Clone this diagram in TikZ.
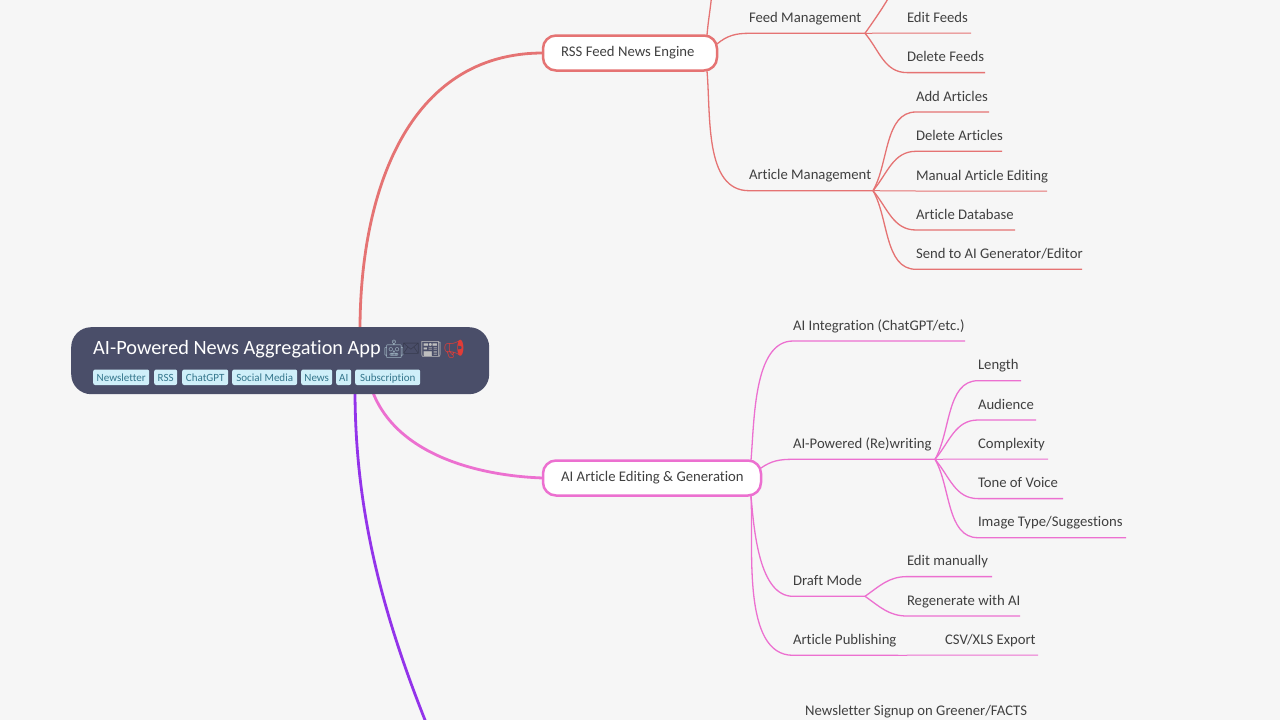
\documentclass[tikz,border=0pt]{standalone}
\usepackage{fontspec}
\setmainfont[RawFeature={-liga}]{Carlito}
\newfontfamily\emojifont{Noto Emoji}
\definecolor{bgcol}{RGB}{246,246,246}
\definecolor{rootcol}{RGB}{74,78,105}
\definecolor{tagcol}{RGB}{207,239,249}
\definecolor{tagtext}{RGB}{52,118,140}
\definecolor{txtcol}{RGB}{64,64,64}
\definecolor{redcol}{RGB}{229,115,115}
\definecolor{pinkcol}{RGB}{236,112,208}
\definecolor{violetcol}{RGB}{147,51,234}
\definecolor{robotcol}{RGB}{150,170,185}
\definecolor{hornzcol}{RGB}{225,60,55}
\tikzset{
  leaf/.style={anchor=south west, inner sep=0pt, outer sep=0pt, text height=10pt, text depth=10.8pt, text width=#1, text=txtcol, font=\fontsize{14.7}{17}\selectfont, execute at begin node={\spaceskip=0pt\hbox\bgroup}, execute at end node=\egroup},
  tag/.style={anchor=base west, fill=tagcol, rounded corners=2pt, inner sep=0pt, text height=12pt, text depth=3.5pt, minimum width=#1, text=tagtext, font=\fontsize{11}{12}\selectfont},
  topic/.style={anchor=west, draw=#1, fill=white, line width=2.5pt, outer sep=0pt, rounded corners=13pt, inner sep=0pt, minimum height=35pt},
  topictext/.style={anchor=base west, inner sep=0pt, text=txtcol, font=\fontsize{14.7}{17}\selectfont},
  emoji/.style={inner sep=0pt, text=#1, font=\emojifont\fontsize{18}{20}\selectfont},
  redline/.style={draw=redcol, line width=1.3pt},
  pinkline/.style={draw=pinkcol, line width=1.3pt},
  flatline/.style={line width=1pt},
  mainline/.style={line width=2.8pt}
}
\begin{document}
\begin{tikzpicture}[x=1pt,y=-1pt]
  \clip (0,0) rectangle (1280,720);
  \fill[bgcol] (0,0) rectangle (1280,720);
  %root
  \coordinate (redstart) at (360,330);
  \coordinate (pinkstart) at (372,390);
  \coordinate (violetstart) at (355,390);
  \coordinate (violetend) at (429,730);
  \node[topic=redcol, minimum width=174pt] (rss) at (543,53) {};
  \node[topic=pinkcol, minimum width=218pt] (aiedit) at (543,478) {};
  \draw[redcol, mainline] (redstart) to [out=90,in=180,looseness=1.05] (rss.west);
  \draw[pinkcol, mainline] (pinkstart) to [out=-70,in=178,looseness=0.9] (aiedit.west);
  \draw[violetcol, mainline] (violetstart) to [out=-90,in=112,looseness=0.9] (violetend);
  \node[anchor=north west, fill=rootcol, rounded corners=20pt, inner sep=0pt, minimum width=418pt, minimum height=67pt] (root) at (71,327) {};
  \node[anchor=base west, inner sep=0pt, text=white, font=\fontsize{20.3}{24}\selectfont] (roottitle) at (93,354.5) {AI-Powered News Aggregation App};
  \node[emoji=robotcol] (robot) at (394,349) {🤖};
  \node[emoji=rootcol!70!black, font=\emojifont\fontsize{14}{16}\selectfont] (envelope) at (411,349) {✉};
  \node[emoji=lightgray] (newspaper) at (431,349) {📰};
  \node[emoji=hornzcol] (megaphone) at (454,349) {📢};
  \node[tag=56pt] (tagnews) at (93,381.5) {Newsletter};
  \node[tag=23pt] (tagrss) at (154,381.5) {RSS};
  \node[tag=46pt] (tagchat) at (182,381.5) {ChatGPT};
  \node[tag=65pt] (tagsocial) at (232,381.5) {Social Media};
  \node[tag=31pt] (tagnew) at (301,381.5) {News};
  \node[tag=15pt] (tagai) at (336,381.5) {AI};
  \node[tag=65pt] (tagsub) at (355,381.5) {Subscription};
  %rss
  \node[topictext] (rsstext) at (561,56.5) {RSS Feed News Engine};
  \node[leaf=116pt] (feedmgmt) at (749,33.3) {Feed Management};
  \node[leaf=124pt] (artmgmt) at (749,190.7) {Article Management};
  \coordinate (rsstop) at (707,35);
  \coordinate (rssbot) at (707,71);
  \coordinate (rssright) at (717,44);
  \coordinate (feedup) at (712,-8);
  \coordinate (addup) at (892,-8);
  \draw[redline] (rsstop) to [out=85,in=-95] (feedup);
  \draw[redline] (rssright) to [out=40,in=180] (feedmgmt.south west) -- (feedmgmt.south east);
  \draw[redline] (rssbot) to [out=-85,in=180,looseness=0.9] (artmgmt.south west) -- (artmgmt.south east);
  \node[leaf=64pt] (editfeeds) at (907,33) {Edit Feeds};
  \node[leaf=78pt] (delfeeds) at (907,72.6) {Delete Feeds};
  \draw[redline] (feedmgmt.south east) to [out=55,in=-120] (addup);
  \draw[redline, flatline] (feedmgmt.south east) -- (editfeeds.south west) -- (editfeeds.south east);
  \draw[redline] (feedmgmt.south east) to [out=-50,in=180] (delfeeds.south west) -- (delfeeds.south east);
  \node[leaf=73pt] (addart) at (916,112) {Add Articles};
  \node[leaf=86pt] (delart) at (916,151.3) {Delete Articles};
  \node[leaf=131pt] (manart) at (916,191) {Manual Article Editing};
  \node[leaf=99pt] (artdb) at (916,230) {Article Database};
  \node[leaf=166pt] (sendart) at (916,269.3) {Send to AI Generator/Editor};
  \draw[redline] (artmgmt.south east) to [out=60,in=180,looseness=0.9] (addart.south west) -- (addart.south east);
  \draw[redline] (artmgmt.south east) to [out=50,in=180] (delart.south west) -- (delart.south east);
  \draw[redline, flatline] (artmgmt.south east) -- (manart.south west) -- (manart.south east);
  \draw[redline] (artmgmt.south east) to [out=-50,in=180] (artdb.south west) -- (artdb.south east);
  \draw[redline] (artmgmt.south east) to [out=-60,in=180,looseness=0.9] (sendart.south west) -- (sendart.south east);
  %ai article
  \node[topictext] (aitext) at (561,481.5) {AI Article Editing \& Generation};
  \node[leaf=172pt] (aiint) at (793,341) {AI Integration (ChatGPT/etc.)};
  \node[leaf=142pt] (airewrite) at (793,459.3) {AI-Powered (Re)writing};
  \node[leaf=72pt] (draft) at (793,596.3) {Draft Mode};
  \node[leaf=105pt] (publish) at (793,655.3) {Article Publishing};
  \coordinate (aitop) at (751,460);
  \coordinate (aibot) at (751,496);
  \coordinate (airight) at (761,468);
  \draw[pinkline] (aitop) to [out=85,in=180,looseness=0.8] (aiint.south west) -- (aiint.south east);
  \draw[pinkline] (airight) to [out=35,in=180] (airewrite.south west) -- (airewrite.south east);
  \draw[pinkline] (aibot) to [out=-85,in=180,looseness=0.8] (draft.south west) -- (draft.south east);
  \draw[pinkline] (aibot) to [out=-87,in=180,looseness=0.8] (publish.south west) -- (publish.south east);
  \node[leaf=43pt] (length) at (978,380.7) {Length};
  \node[leaf=58pt] (audience) at (978,420) {Audience};
  \node[leaf=70pt] (complexity) at (978,459) {Complexity};
  \node[leaf=85pt] (tone) at (978,498.6) {Tone of Voice};
  \node[leaf=148pt] (imagetype) at (978,537.7) {Image Type/Suggestions};
  \draw[pinkline] (airewrite.south east) to [out=60,in=180,looseness=0.9] (length.south west) -- (length.south east);
  \draw[pinkline] (airewrite.south east) to [out=50,in=180] (audience.south west) -- (audience.south east);
  \draw[pinkline, flatline] (airewrite.south east) -- (complexity.south west) -- (complexity.south east);
  \draw[pinkline] (airewrite.south east) to [out=-50,in=180] (tone.south west) -- (tone.south east);
  \draw[pinkline] (airewrite.south east) to [out=-60,in=180,looseness=0.9] (imagetype.south west) -- (imagetype.south east);
  \node[leaf=85pt] (editman) at (907,576.6) {Edit manually};
  \node[leaf=113pt] (regen) at (907,616) {Regenerate with AI};
  \node[leaf=93pt] (csv) at (945,655) {CSV/XLS Export};
  \draw[pinkline] (draft.south east) to [out=35,in=180] (editman.south west) -- (editman.south east);
  \draw[pinkline] (draft.south east) to [out=-35,in=180] (regen.south west) -- (regen.south east);
  \draw[pinkline, flatline] (publish.south east) -- (csv.south west) -- (csv.south east);
  %newsletter
  \node[topictext] (signup) at (805,715) {Newsletter Signup on Greener/FACTS};
\end{tikzpicture}
\end{document}
